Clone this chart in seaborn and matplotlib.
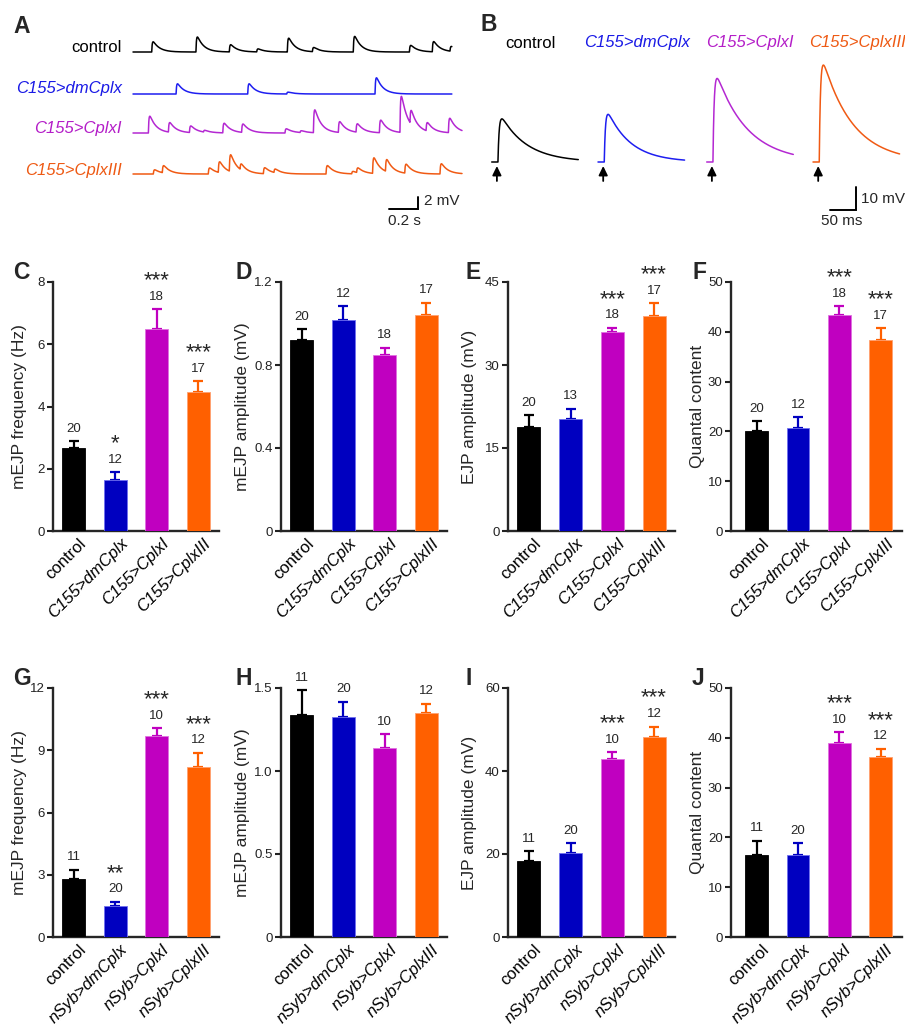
"""
Complexin overexpression - mEJP / EJP summary figure
"""

import numpy as np
import pandas as pd
import matplotlib
matplotlib.use("Agg")
import matplotlib.pyplot as plt
import matplotlib.transforms as mtransforms
import seaborn as sns

sns.set_theme(style="ticks")
plt.rcParams["font.family"] = ["Liberation Sans", "DejaVu Sans"]

W, H = 905, 1028

# -------------------------------------------------
# Data
# -------------------------------------------------

c155_groups = ["control", "C155>dmCplx", "C155>CplxI", "C155>CplxIII"]
nsyb_groups = ["control", "nSyb>dmCplx", "nSyb>CplxI", "nSyb>CplxIII"]

bar_colors = ["#000000", "#0000C0", "#C000C0", "#FF6000"]
bar_edges = ["#000000", "#7070F0", "#E070E0", "#FFA070"]
trace_colors = ["#000000", "#1E1EF0", "#B428D2", "#F05A14"]
label_colors = ["#000000", "#1A1AE6", "#B41EC8", "#EE5A14"]

# C - mEJP frequency (Hz), C155
c_mean = [2.67, 1.64, 6.48, 4.47]
c_sem = [0.22, 0.24, 0.64, 0.34]
c_n = [20, 12, 18, 17]
c_sig = ["", "*", "***", "***"]

# D - mEJP amplitude (mV), C155
d_mean = [0.922, 1.018, 0.850, 1.042]
d_sem = [0.051, 0.064, 0.032, 0.057]
d_n = [20, 12, 18, 17]
d_sig = ["", "", "", ""]

# E - EJP amplitude (mV), C155
e_mean = [18.8, 20.2, 35.9, 38.8]
e_sem = [2.1, 1.9, 0.8, 2.4]
e_n = [20, 13, 18, 17]
e_sig = ["", "", "***", "***"]

# F - quantal content, C155
f_mean = [20.1, 20.7, 43.4, 38.4]
f_sem = [1.9, 2.1, 1.7, 2.3]
f_n = [20, 12, 18, 17]
f_sig = ["", "", "***", "***"]

# G - mEJP frequency (Hz), nSyb
g_mean = [2.80, 1.47, 9.70, 8.20]
g_sem = [0.44, 0.23, 0.35, 0.68]
g_n = [11, 20, 10, 12]
g_sig = ["", "**", "***", "***"]

# H - mEJP amplitude (mV), nSyb
h_mean = [1.340, 1.327, 1.140, 1.350]
h_sem = [0.147, 0.090, 0.082, 0.055]
h_n = [11, 20, 10, 12]
h_sig = ["", "", "", ""]

# I - EJP amplitude (mV), nSyb
i_mean = [18.4, 20.3, 42.8, 48.2]
i_sem = [2.3, 2.3, 1.7, 2.5]
i_n = [11, 20, 10, 12]
i_sig = ["", "", "***", "***"]

# J - quantal content, nSyb
j_mean = [16.4, 16.4, 38.9, 36.2]
j_sem = [2.9, 2.4, 2.2, 1.6]
j_n = [11, 20, 10, 12]
j_sig = ["", "", "***", "***"]

# A - spontaneous events (time s, amplitude mV)
ctrl_ev_t = [0.129, 0.434, 0.664, 0.853, 1.064, 1.237, 1.519, 1.906, 2.064, 2.186]
ctrl_ev_a = [1.7, 2.5, 1.2, 0.5, 2.3, 0.7, 2.6, 1.1, 1.7, 0.8]
dm_ev_t = [0.297, 0.791, 1.060, 1.669]
dm_ev_a = [1.7, 1.7, 0.3, 2.7]
cpx1_ev_t = [0.106, 0.244, 0.389, 0.486, 0.619, 0.749, 1.048, 1.152,
             1.244, 1.416, 1.538, 1.699, 1.841, 1.910, 2.021, 2.175]
cpx1_ev_a = [2.8, 1.6, 1.1, 0.3, 1.6, 1.4, 0.7, 0.3,
             3.8, 1.8, 1.4, 2.1, 6.0, 2.3, 1.4, 2.4]
cpx3_ev_t = [0.140, 0.202, 0.519, 0.588, 0.664, 0.738, 0.899, 0.972,
             1.331, 1.508, 1.542, 1.652, 1.741, 1.874, 2.117]
cpx3_ev_a = [0.7, 1.2, 1.0, 1.8, 2.8, 1.0, 1.0, 0.6,
             1.4, 0.4, 0.8, 2.6, 2.0, 1.5, 1.7]
trace_dur = [2.20, 2.20, 2.27, 2.27]

# B - evoked EJPs: peak (mV) and decay constant (ms)
ejp_amp = [19.0, 21.0, 36.8, 42.7]
ejp_tau = [50, 45, 60, 58]


# -------------------------------------------------
# Helpers
# -------------------------------------------------

def fx(px):
    return px / W


def fy(py):
    return 1 - py / H


def psp(t, ev_t, ev_a, tau_r, tau_d):
    s_ref = np.linspace(0, 10 * tau_d, 4000)
    norm = ((1 - np.exp(-s_ref / tau_r)) * np.exp(-s_ref / tau_d)).max()
    v = np.zeros_like(t)
    for t0, a in zip(ev_t, ev_a):
        s = np.clip(t - t0, 0, None)
        v += a * (1 - np.exp(-s / tau_r)) * np.exp(-s / tau_d) / norm
    return v


fig = plt.figure(figsize=(W / 100, H / 100), dpi=100)

# -------------------------------------------------
# A - spontaneous traces
# -------------------------------------------------

ax_a = fig.add_axes([fx(130), fy(230), fx(470) - fx(130), 205 / H])
s_per_px = 0.2 / 29
mv_per_px = 2 / 12
ax_a.set_xlim(-3 * s_per_px, 337 * s_per_px)
ax_a.set_ylim(0, 205 * mv_per_px)
ax_a.axis("off")

a_names = ["control", "C155>dmCplx", "C155>CplxI", "C155>CplxIII"]
a_base_px = [52, 94, 133, 174]
a_label_px = [47, 88, 128, 170]
events = [(ctrl_ev_t, ctrl_ev_a), (dm_ev_t, dm_ev_a),
          (cpx1_ev_t, cpx1_ev_a), (cpx3_ev_t, cpx3_ev_a)]

for k, (ev_t, ev_a) in enumerate(events):
    t = np.arange(0, trace_dur[k], 0.001)
    v = psp(t, ev_t, ev_a, 0.004, 0.045) + (230 - a_base_px[k]) * mv_per_px
    sns.lineplot(x=t, y=v, ax=ax_a, color=trace_colors[k], lw=1.1, estimator=None)
    fig.text(fx(122), fy(a_label_px[k]), a_names[k], ha="right", va="center",
             fontsize=12, color=label_colors[k],
             style="normal" if k == 0 else "italic")

# scale bar
y0 = (230 - 209) * mv_per_px
x1 = (418 - 133) * s_per_px
ax_a.plot([x1 - 0.2, x1, x1], [y0, y0, y0 + 2], color="black", lw=1.4,
          solid_joinstyle="miter", clip_on=False)
fig.text(fx(424), fy(201), "2 mV", ha="left", va="center", fontsize=11)
fig.text(fx(404), fy(221), "0.2 s", ha="center", va="center", fontsize=11)

# -------------------------------------------------
# B - evoked EJPs
# -------------------------------------------------

ax_b = fig.add_axes([fx(480), fy(230), fx(905) - fx(480), 180 / H])
ms_per_px = 50 / 26
mvb_per_px = 10 / 22.7
ax_b.set_xlim(0, 425 * ms_per_px)
ax_b.set_ylim(0, 180 * mvb_per_px)
ax_b.axis("off")

b_start_px = [491.7, 598.0, 706.7, 813.0]
b_label_px = [530, 637, 750, 857]
b_base = (230 - 162) * mvb_per_px

for k in range(4):
    t = np.arange(-10, 157, 0.5)
    v = psp(t, [2.0], [ejp_amp[k]], 2.5, ejp_tau[k]) + b_base
    x0 = (b_start_px[k] - 480) * ms_per_px + 10
    sns.lineplot(x=t + x0, y=v, ax=ax_b, color=trace_colors[k], lw=1.1, estimator=None)
    ax_b.annotate("", xy=(x0, (230 - 166) * mvb_per_px),
                  xytext=(x0, (230 - 181) * mvb_per_px),
                  arrowprops=dict(arrowstyle="-|>,head_length=0.45,head_width=0.22",
                                  color="black", lw=1.3, shrinkA=0, shrinkB=0))
    fig.text(fx(b_label_px[k]), fy(43), a_names[k], ha="center", va="center",
             fontsize=12, color=label_colors[k],
             style="normal" if k == 0 else "italic")

yb = (230 - 210) * mvb_per_px
xb = (856 - 480) * ms_per_px
ax_b.plot([xb - 50, xb, xb], [yb, yb, yb + 10], color="black", lw=1.4,
          solid_joinstyle="miter", clip_on=False)
fig.text(fx(861), fy(199), "10 mV", ha="left", va="center", fontsize=11)
fig.text(fx(842), fy(221), "50 ms", ha="center", va="center", fontsize=11)

# -------------------------------------------------
# Bar panels
# -------------------------------------------------


def bar_panel(ax, groups, mean, sem, n, sig, ticks, ticklabels, ylabel, xlim, lab_x):
    df = pd.DataFrame({"group": groups, "mean": mean})
    sns.barplot(data=df, x="group", y="mean", hue="group", palette=bar_colors,
                saturation=1, width=0.55, legend=False, ax=ax, zorder=3)
    for patch, ec in zip(ax.patches, bar_edges):
        patch.set_edgecolor(ec)
        patch.set_linewidth(0.6)
    for i in range(4):
        ax.errorbar(i, mean[i], yerr=[[0], [sem[i]]], fmt="none",
                    ecolor=bar_colors[i], elinewidth=1.6, capsize=3.8,
                    capthick=1.6, zorder=2)
        top = mean[i] + sem[i]
        ax.annotate(str(n[i]), xy=(i, top), xytext=(0, 9), textcoords="offset points",
                    ha="center", va="center", fontsize=9.5, annotation_clip=False)
        if sig[i]:
            ax.annotate(sig[i], xy=(i, top), xytext=(0, 16.5), textcoords="offset points",
                        ha="center", va="baseline", fontsize=16, annotation_clip=False)

    ax.set_xlim(*xlim)
    ax.set_ylim(0, ticks[-1])
    ax.set_yticks(ticks)
    ax.set_yticklabels(ticklabels)
    ax.set_xlabel("")
    ax.set_ylabel(ylabel, fontsize=12.5, va="center")
    ax.yaxis.set_label_coords(lab_x, 0.5)
    sns.despine(ax=ax)
    for sp in ["left", "bottom"]:
        ax.spines[sp].set_linewidth(1.7)
    ax.tick_params(axis="y", direction="out", length=4, width=1.5,
                   labelsize=9.5, pad=2, colors="#222222")
    ax.tick_params(axis="x", length=0, pad=3.5)
    ax.set_xticks(range(4))
    ax.set_xticklabels(groups)
    off = mtransforms.ScaledTranslation(5 / 100, 0, fig.dpi_scale_trans)
    for k, lab in enumerate(ax.get_xticklabels()):
        lab.set_rotation(45)
        lab.set_ha("right")
        lab.set_va("top")
        lab.set_rotation_mode("anchor")
        lab.set_fontsize(12)
        lab.set_color("black")
        if k > 0:
            lab.set_style("italic")
        lab.set_transform(lab.get_transform() + off)


row_top = [282, 688]
col_left = [53, 281, 508, 731]
col_w = [166, 166, 167, 171]
std_xlim = (-0.5, 3.5)
wide_xlim = (-0.62, 3.52)
lab_xs = [-0.199, -0.229, -0.228, -0.193]

panels = [
    (c155_groups, c_mean, c_sem, c_n, c_sig, [0, 2, 4, 6, 8], ["0", "2", "4", "6", "8"],
     "mEJP frequency (Hz)"),
    (c155_groups, d_mean, d_sem, d_n, d_sig, [0, 0.4, 0.8, 1.2], ["0", "0.4", "0.8", "1.2"],
     "mEJP amplitude (mV)"),
    (c155_groups, e_mean, e_sem, e_n, e_sig, [0, 15, 30, 45], ["0", "15", "30", "45"],
     "EJP amplitude (mV)"),
    (c155_groups, f_mean, f_sem, f_n, f_sig, [0, 10, 20, 30, 40, 50],
     ["0", "10", "20", "30", "40", "50"], "Quantal content"),
    (nsyb_groups, g_mean, g_sem, g_n, g_sig, [0, 3, 6, 9, 12], ["0", "3", "6", "9", "12"],
     "mEJP frequency (Hz)"),
    (nsyb_groups, h_mean, h_sem, h_n, h_sig, [0, 0.5, 1.0, 1.5], ["0", "0.5", "1.0", "1.5"],
     "mEJP amplitude (mV)"),
    (nsyb_groups, i_mean, i_sem, i_n, i_sig, [0, 20, 40, 60], ["0", "20", "40", "60"],
     "EJP amplitude (mV)"),
    (nsyb_groups, j_mean, j_sem, j_n, j_sig, [0, 10, 20, 30, 40, 50],
     ["0", "10", "20", "30", "40", "50"], "Quantal content"),
]

for idx, spec in enumerate(panels):
    r, c = divmod(idx, 4)
    top = row_top[r]
    ax = fig.add_axes([fx(col_left[c]), fy(top + 249), col_w[c] / W, 249 / H])
    xlim = wide_xlim if c == 3 else std_xlim
    bar_panel(ax, *spec, xlim=xlim, lab_x=lab_xs[c])

# -------------------------------------------------
# Panel letters
# -------------------------------------------------

letters = [("A", 13, 33), ("B", 480, 31),
           ("C", 13, 279), ("D", 235, 279), ("E", 465, 279), ("F", 692, 279),
           ("G", 13, 685), ("H", 235, 685), ("I", 465, 685), ("J", 692, 685)]
for txt, x, y in letters:
    fig.text(fx(x), fy(y), txt, fontsize=16.5, fontweight="bold",
             ha="left", va="baseline")

plt.savefig("out.png", dpi=100)
plt.close()
